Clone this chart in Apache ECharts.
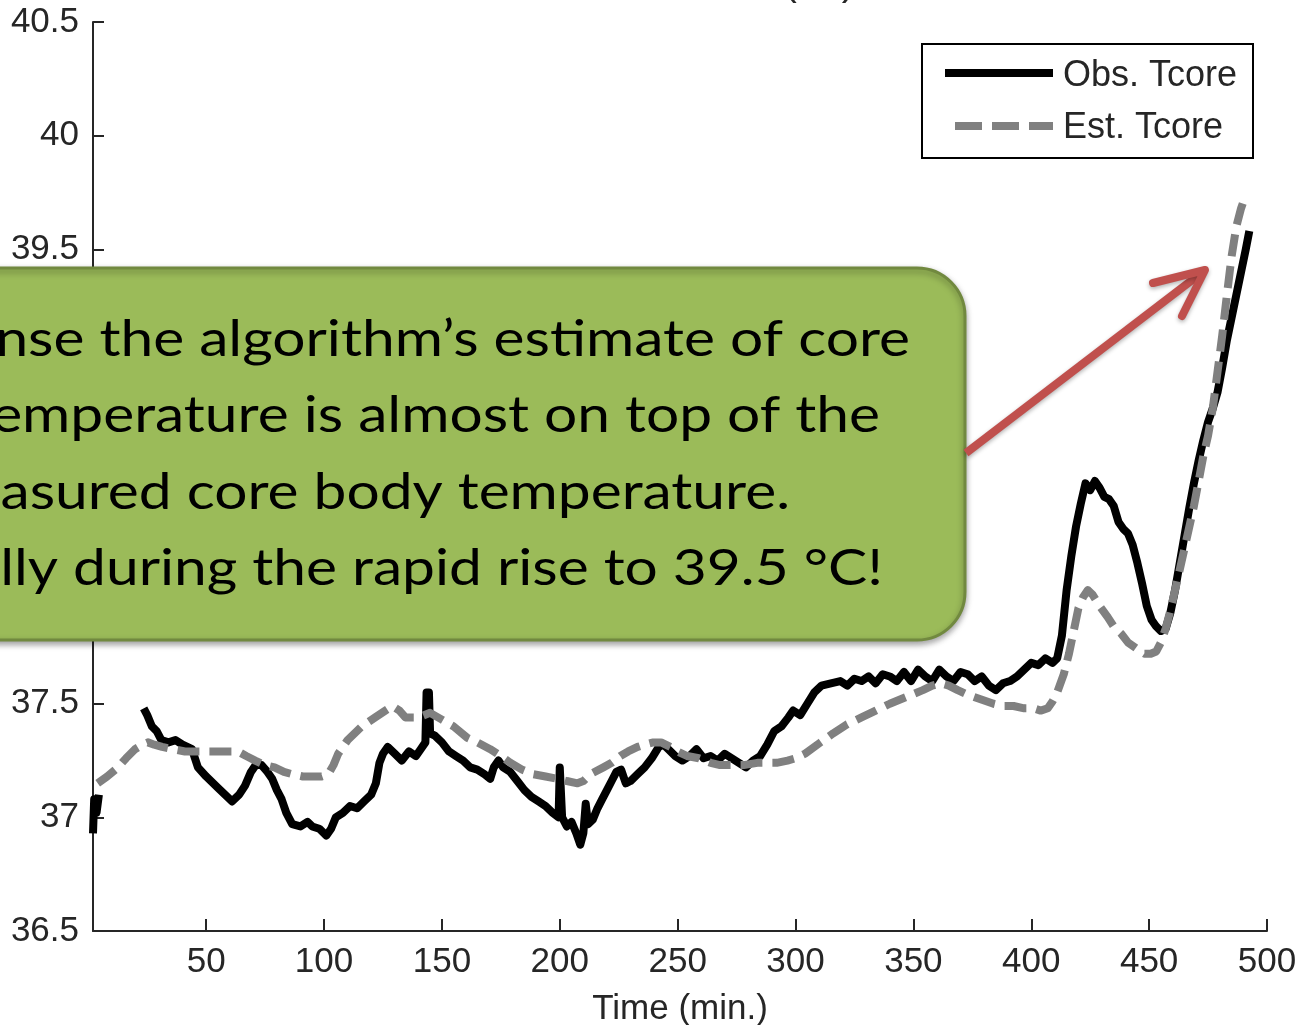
<!DOCTYPE html>
<html>
<head>
<meta charset="utf-8">
<script src="https://cdn.jsdelivr.net/npm/echarts@6/dist/echarts.min.js"></script>
<style>
html,body{margin:0;padding:0;background:#fff;}
#chart{width:1297px;height:1025px;}
</style>
</head>
<body>
<div id="chart"></div>
<script>
// ---- Data (time in minutes, temperature in °C) ----
var obsTime = [2,2.5,3.5,4.5,10,
 23.5,25,27,29,31,34,37,40,44,46.5,50,55,58,61,64,66.5,69,71,73.5,76,78,80,82,84,86.5,90,93,95,98,101,103,105,108,111,114,117,120,122,123.5,125,127,130,133,136,139,141,143,143.5,144.5,145,147,150,153,156,159,162,165,168,170.5,172,174,176,179,182,185,188,191,194,197,199.5,200,201,203,205,207,208.7,210,211,212,214,216,218,220,222,224,226,228,230,233,236,239,242,244,246,249,252,255,258,261,264,267,270,273,276,279,282,285,288,291,294,297,299,302,305,308,311,315,319,322,325,328,331,334,337,340,343,346,349,352,355,358,361,364,367,370,373,376,379,382,385,388,391,394,397,400,403,406,409,411,413,415,417,419,421,423,425,427,429,431,433,435,437,439,441,443,445,447,449,451,453,455,457,459,461,463,465,467,469,471,473,475,477,479,481,483,485,487,489,491,492.5];
var obsTemp = [36.93,37.08,37.02,37.1,'-',
 37.48,37.45,37.40,37.38,37.34,37.33,37.34,37.32,37.30,37.22,37.18,37.13,37.10,37.07,37.10,37.14,37.20,37.23,37.23,37.20,37.17,37.12,37.08,37.02,36.97,36.96,36.98,36.96,36.95,36.92,36.95,37.0,37.02,37.05,37.04,37.07,37.10,37.15,37.24,37.28,37.31,37.28,37.25,37.29,37.27,37.30,37.33,37.55,37.55,37.37,37.36,37.33,37.29,37.27,37.25,37.22,37.21,37.19,37.17,37.22,37.25,37.22,37.20,37.16,37.12,37.09,37.07,37.05,37.02,37.0,37.22,37.0,36.96,36.98,36.93,36.88,36.93,37.06,36.97,36.99,37.04,37.08,37.12,37.16,37.20,37.21,37.15,37.16,37.19,37.22,37.26,37.31,37.32,37.30,37.27,37.25,37.27,37.30,37.26,37.27,37.25,37.28,37.26,37.24,37.22,37.25,37.27,37.32,37.38,37.40,37.44,37.47,37.45,37.50,37.55,37.58,37.59,37.60,37.58,37.61,37.60,37.62,37.59,37.63,37.62,37.60,37.64,37.60,37.65,37.62,37.60,37.65,37.62,37.60,37.64,37.63,37.60,37.62,37.58,37.56,37.59,37.60,37.62,37.65,37.68,37.67,37.70,37.68,37.70,37.80,38.0,38.15,38.28,38.38,38.47,38.44,38.48,38.45,38.41,38.40,38.37,38.30,38.27,38.25,38.20,38.12,38.03,37.93,37.87,37.84,37.82,37.83,37.90,38.0,38.12,38.24,38.36,38.47,38.57,38.66,38.74,38.80,38.87,38.98,39.10,39.20,39.30,39.40,39.50,39.58];

var estTime = [4,8,12.6,16,19.8,23,25.3,28,31.3,36,41,48,55,63.5,67,70.8,75,79,83,86.5,91,96,99,101.8,104,106,110,116,121.7,126,129,132,134.5,140,145,150,155,160.8,165,170.5,175,179,184,188.8,194,199,203,207.5,210,213,218.5,222,225.7,229,233,236,239.7,243,247,250,254,259,264,268,273.7,278,283.8,288,292,296.6,300,304,310.6,316,322,328,334,340,347,354,358,361.6,365,368.8,373,378.5,384,388,392.5,397,401,404,407,409,411,413.8,416,418,420,422,424,426,429,432.5,435,438,441,445,448,450.7,453,455,457,459,461,463,466,469,471,473,475,477,479,481,483,485,487,489,490];
var estTemp = [37.15,37.18,37.22,37.26,37.30,37.32,37.33,37.32,37.31,37.30,37.29,37.29,37.29,37.29,37.27,37.25,37.23,37.22,37.20,37.19,37.18,37.18,37.18,37.19,37.23,37.28,37.34,37.40,37.44,37.47,37.49,37.47,37.44,37.44,37.46,37.43,37.40,37.35,37.33,37.30,37.27,37.24,37.21,37.19,37.18,37.17,37.16,37.15,37.16,37.19,37.22,37.24,37.27,37.29,37.31,37.32,37.33,37.33,37.31,37.29,37.27,37.26,37.24,37.23,37.23,37.23,37.24,37.24,37.24,37.25,37.26,37.28,37.33,37.37,37.41,37.44,37.47,37.50,37.53,37.56,37.58,37.59,37.58,37.56,37.54,37.52,37.50,37.49,37.49,37.48,37.48,37.47,37.48,37.51,37.55,37.63,37.72,37.82,37.92,37.97,38.0,37.98,37.93,37.88,37.84,37.81,37.77,37.74,37.72,37.72,37.73,37.77,37.83,37.91,38.0,38.09,38.23,38.37,38.48,38.59,38.68,38.80,38.96,39.12,39.30,39.47,39.60,39.68,39.71];

var xTickValues = [50,100,150,200,250,300,350,400,450,500];
var seriesNames = ['Obs. Tcore', 'Est. Tcore'];
var xAxisName = 'Time (min.)';
var titleText = 'Tcore (°C)';
var calloutLines = [
  'nse the algorithm\u2019s estimate of core',
  'emperature is almost on top of the',
  'asured core body temperature.',
  'lly during the rapid rise to 39.5 °C!'
];

function pairs(xs, ys){ var out=[]; for(var i=0;i<xs.length;i++){ out.push([xs[i], ys[i]]); } return out; }

var axisFont = 'Liberation Sans, Arial, sans-serif';
var chart = echarts.init(document.getElementById('chart'), null, {renderer:'canvas'});

var calloutTextEls = [];
var lineRight = [910, 880, 790, 883];
var lineTop = [314, 390, 467, 543];
for (var i=0;i<calloutLines.length;i++){
  calloutTextEls.push({
    type:'text', z:102, x: lineRight[i], y: lineTop[i], scaleX:1.15,
    style:{ text: calloutLines[i], font: '51px Lato, "Open Sans", sans-serif', fill:'#000', align:'right', verticalAlign:'top' }
  });
}

var option = {
  animation:false,
  backgroundColor:'#fff',
  grid:{ left:93, right:30, top:22, bottom:94, containLabel:false, outerBoundsMode:'none' },
  xAxis:{
    type:'value', min:2, max:500,
    name:xAxisName, nameLocation:'middle', nameGap:61,
    nameTextStyle:{ fontFamily:axisFont, fontSize:35, color:'#262626' },
    axisLine:{ show:true, onZero:false, lineStyle:{ color:'#262626', width:2 } },
    axisTick:{ show:true, inside:true, length:12, customValues:xTickValues, lineStyle:{ color:'#262626', width:2 } },
    axisLabel:{ customValues:xTickValues, fontFamily:axisFont, fontSize:35, color:'#262626', margin:14 },
    splitLine:{ show:false }
  },
  yAxis:{
    type:'value', min:36.5, max:40.5, interval:0.5,
    axisLine:{ show:true, onZero:false, lineStyle:{ color:'#262626', width:2 } },
    axisTick:{ show:true, inside:true, length:11, lineStyle:{ color:'#262626', width:2 } },
    axisLabel:{ fontFamily:axisFont, fontSize:35, color:'#262626', margin:14 },
    splitLine:{ show:false }
  },
  series:[
    { name:seriesNames[0], type:'line', data:pairs(obsTime, obsTemp), showSymbol:false, symbol:'none', connectNulls:false,
      lineStyle:{ color:'#000', width:8, join:'round' }, z:2 },
    { name:seriesNames[1], type:'line', data:pairs(estTime, estTemp), showSymbol:false, symbol:'none',
      lineStyle:{ color:'#808080', width:8, type:[22,10], join:'round' }, z:3 }
  ],
  graphic:[
    // partially visible title at top
    { type:'text', z:50, x:855, y:4, style:{ text:titleText, font:'40px Liberation Sans, Arial, sans-serif', fill:'#262626', align:'right', verticalAlign:'bottom' } },
    // legend
    { type:'rect', z:50, shape:{ x:922, y:44, width:331, height:114 }, style:{ fill:'#fff', stroke:'#000', lineWidth:2 } },
    { type:'line', z:51, shape:{ x1:945, y1:73, x2:1053, y2:73 }, style:{ stroke:'#000', lineWidth:8 } },
    { type:'line', z:51, shape:{ x1:955, y1:126, x2:1053, y2:126 }, style:{ stroke:'#808080', lineWidth:8, lineDash:[27,10] } },
    { type:'text', z:51, x:1063, y:76, style:{ text:seriesNames[0], font:'36px Liberation Sans, Arial, sans-serif', fill:'#262626', verticalAlign:'middle' } },
    { type:'text', z:51, x:1063, y:128, style:{ text:seriesNames[1], font:'36px Liberation Sans, Arial, sans-serif', fill:'#262626', verticalAlign:'middle' } },
    // callout box
    { type:'rect', z:100, shape:{ x:-60, y:268, width:1025, height:372, r:48 },
      style:{ fill:'#9BBB59', stroke:'#71893F', lineWidth:3, shadowBlur:6, shadowOffsetY:3, shadowColor:'rgba(0,0,0,0.35)' } },
    // arrow
    { type:'line', z:101, shape:{ x1:966, y1:453, x2:1200, y2:274 },
      style:{ stroke:'#C0504D', lineWidth:8, lineCap:'butt', shadowBlur:4, shadowOffsetY:2, shadowColor:'rgba(0,0,0,0.3)' } },
    { type:'polyline', z:101, shape:{ points:[[1153,283],[1205,270],[1182,316]] },
      style:{ stroke:'#C0504D', fill:null, lineWidth:8, lineCap:'round', lineJoin:'round', shadowBlur:4, shadowOffsetY:2, shadowColor:'rgba(0,0,0,0.3)' } }
  ].concat(calloutTextEls)
};
chart.setOption(option);
</script>
</body>
</html>
